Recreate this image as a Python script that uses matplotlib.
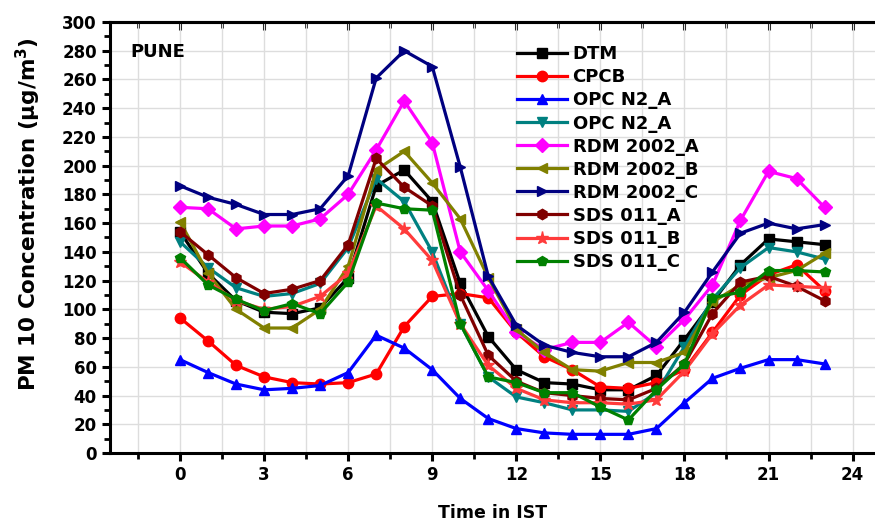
import numpy as np
import matplotlib
matplotlib.use('Agg')
import matplotlib.pyplot as plt
from matplotlib.ticker import MultipleLocator

plt.rcParams['font.family'] = ['DejaVu Sans']
plt.rcParams['font.weight'] = 'bold'
plt.rcParams['mathtext.default'] = 'bf'

# Hours of the day
hours = np.arange(24)

# PM10 values (ug/m3)
dtm = [154, 125, 106, 98, 97, 101, 122, 186, 197, 175, 118, 81,
       58, 49, 48, 44, 44, 54, 79, 105, 131, 149, 147, 145]
cpcb = [94, 78, 61, 53, 49, 48, 49, 55, 88, 109, 111, 108,
        84, 67, 58, 46, 45, 49, 58, 84, 110, 124, 131, 113]
opc_a = [65, 56, 48, 44, 45, 47, 56, 82, 73, 58, 38, 24,
         17, 14, 13, 13, 13, 17, 35, 52, 59, 65, 65, 62]
opc_b = [147, 129, 115, 109, 111, 118, 143, 191, 175, 140, 90, 53,
         39, 35, 30, 30, 29, 42, 74, 107, 129, 143, 140, 135]
rdm_a = [171, 170, 156, 158, 158, 163, 180, 211, 245, 216, 140, 113,
         84, 72, 77, 77, 91, 74, 93, 117, 162, 196, 191, 171]
rdm_b = [161, 125, 100, 87, 87, 100, 130, 197, 210, 188, 163, 122,
         86, 70, 58, 57, 63, 63, 70, 105, 117, 122, 127, 139]
rdm_c = [186, 178, 173, 166, 166, 170, 193, 261, 280, 269, 199, 123,
         89, 75, 70, 67, 67, 77, 98, 126, 153, 160, 156, 159]
sds_a = [154, 138, 122, 111, 114, 120, 145, 205, 185, 172, 110, 68,
         50, 42, 40, 38, 37, 45, 62, 97, 119, 123, 116, 106]
sds_b = [133, 119, 106, 100, 102, 109, 125, 172, 156, 134, 90, 61,
         45, 37, 35, 35, 34, 37, 57, 83, 103, 117, 116, 115]
sds_c = [136, 117, 107, 99, 104, 97, 119, 174, 170, 169, 90, 53,
         49, 42, 42, 32, 23, 44, 62, 108, 112, 127, 127, 126]

series = [
    ('DTM', dtm, 'black', 's'),
    ('CPCB', cpcb, '#ff0000', 'o'),
    ('OPC N2_A', opc_a, '#0000ff', '^'),
    ('OPC N2_A', opc_b, '#008080', 'v'),
    ('RDM 2002_A', rdm_a, '#ff00ff', 'D'),
    ('RDM 2002_B', rdm_b, '#808000', '<'),
    ('RDM 2002_C', rdm_c, '#000080', '>'),
    ('SDS 011_A', sds_a, '#800000', 'h'),
    ('SDS 011_B', sds_b, '#ff3b3b', '*'),
    ('SDS 011_C', sds_c, '#008000', 'p'),
]

fig = plt.figure(figsize=(8.75, 5.23), dpi=100)
ax = fig.add_axes([0.1257, 0.1338, 0.8743, 0.8242])

for name, vals, col, mk in series:
    ms = 9.5 if mk == '*' else 7.5
    if mk == 'D':
        ms = 7
    ax.plot(hours, vals, color=col, marker=mk, markersize=ms, linewidth=2.3,
            label=name, markeredgecolor=col)

ax.set_xlim(-2.5, 24.8)
ax.set_ylim(0, 300)
ax.xaxis.set_major_locator(MultipleLocator(3))
ax.xaxis.set_minor_locator(MultipleLocator(1.5))
ax.yaxis.set_major_locator(MultipleLocator(20))
ax.yaxis.set_minor_locator(MultipleLocator(10))

ax.grid(True, which='major', axis='y', color='#dddddd', linewidth=1)
ax.grid(True, which='both', axis='x', color='#dddddd', linewidth=1)
ax.set_axisbelow(True)

for s in ['left', 'bottom', 'top']:
    ax.spines[s].set_linewidth(2.2)
ax.spines['right'].set_visible(False)

ax.tick_params(which='major', direction='out', length=6, width=2.2,
               labelsize=12, top=False, right=False)
ax.tick_params(which='minor', direction='out', length=4, width=2, top=False, right=False)
# inward ticks along the top edge
ax2 = ax.secondary_xaxis('top')
ax2.xaxis.set_major_locator(MultipleLocator(3))
ax2.xaxis.set_minor_locator(MultipleLocator(1.5))
ax2.tick_params(which='major', direction='in', length=6, width=2.2, labeltop=False)
ax2.tick_params(which='minor', direction='in', length=4, width=2)
ax2.spines['top'].set_linewidth(2.2)

for lab in ax.get_xticklabels() + ax.get_yticklabels():
    lab.set_fontweight('bold')

ax.set_xlabel('Time in IST', fontsize=12.5, fontweight='bold', labelpad=14)
ax.set_ylabel(r'PM 10 Concentration (μg/m$^3$)', fontsize=15.5, fontweight='bold')
ax.yaxis.set_label_coords(-0.088, 0.555)

ax.text(0.026, 0.93, 'PUNE', transform=ax.transAxes, fontsize=13,
        fontweight='bold', va='center', ha='left')

ax.legend(loc='upper left', bbox_to_anchor=(0.515, 0.975), frameon=False,
          prop={'size': 13, 'weight': 'bold'}, handlelength=2.8,
          handletextpad=0.3, labelspacing=0.28, borderpad=0.2)

fig.savefig('out.png', dpi=100)
